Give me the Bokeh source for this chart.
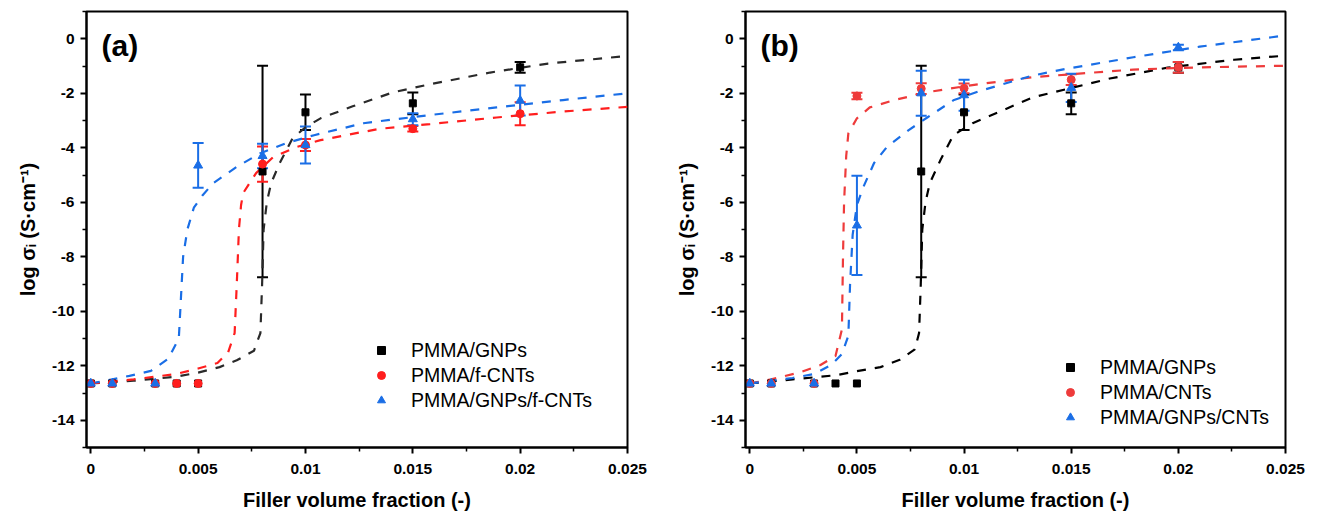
from bokeh.plotting import figure
from bokeh.layouts import row
from bokeh.models import (Range1d, FixedTicker, Whisker, TeeHead, ColumnDataSource,
                          Legend, LegendItem, Label)
from bokeh.embed import file_html
from bokeh.resources import INLINE

# ---------------- data: panel (a) ----------------
gnp_x = [0, 0.001, 0.003, 0.004, 0.005, 0.008, 0.01, 0.015, 0.02]
gnp_y = [-12.65, -12.65, -12.65, -12.65, -12.65, -4.87, -2.7, -2.37, -1.05]
gnp_err = [0, 0, 0, 0, 0, 3.88, 0.65, 0.4, 0.2]

fcnt_x = [0, 0.001, 0.003, 0.004, 0.005, 0.008, 0.01, 0.015, 0.02]
fcnt_y = [-12.65, -12.65, -12.65, -12.65, -12.65, -4.6, -3.9, -3.3, -2.75]
fcnt_err = [0, 0, 0, 0, 0, 0.65, 0.22, 0.1, 0.42]

hyba_x = [0, 0.001, 0.003, 0.005, 0.008, 0.01, 0.015, 0.02]
hyba_y = [-12.65, -12.65, -12.65, -4.65, -4.3, -3.9, -2.95, -2.27]
hyba_err = [0, 0, 0, 0.82, 0.45, 0.68, 0.22, 0.55]

# fitted curves (a)
fit_gnp_a_x = [0, 0.002, 0.004, 0.005, 0.006, 0.0068, 0.0076, 0.0079, 0.00798, 0.00805, 0.0082,
               0.0084, 0.0088, 0.0094, 0.01, 0.0107, 0.0122, 0.0141, 0.0158, 0.0186, 0.0213, 0.025]
fit_gnp_a_y = [-12.65, -12.55, -12.4, -12.25, -12.05, -11.8, -11.45, -10.8, -9.0, -7.0, -6.0,
               -5.3, -4.56, -3.65, -3.25, -2.92, -2.48, -1.96, -1.67, -1.24, -0.91, -0.63]

fit_fcnt_a_x = [0, 0.002, 0.004, 0.005, 0.0059, 0.0064, 0.0067, 0.0068, 0.0069, 0.007, 0.0071,
                0.0077, 0.0085, 0.0096, 0.0107, 0.0126, 0.0135, 0.0158, 0.0189, 0.022, 0.025]
fit_fcnt_a_y = [-12.65, -12.5, -12.3, -12.1, -11.9, -11.5, -10.8, -9.0, -7.0, -6.1, -5.66,
                -4.93, -4.34, -3.97, -3.72, -3.43, -3.3, -3.13, -2.89, -2.67, -2.5]

fit_hyb_a_x = [0, 0.001, 0.0018, 0.0028, 0.0036, 0.0041, 0.0042, 0.0043, 0.0045, 0.0048, 0.0052,
               0.0057, 0.0068, 0.0079, 0.0091, 0.0104, 0.0127, 0.0135, 0.0158, 0.0189, 0.022, 0.025]
fit_hyb_a_y = [-12.65, -12.5, -12.37, -12.19, -11.75, -11.0, -9.5, -8.0, -7.0, -6.2, -5.75,
               -5.3, -4.7, -4.2, -3.83, -3.54, -3.1, -3.02, -2.8, -2.52, -2.25, -2.0]

# ---------------- data: panel (b) ----------------
cnt_x = [0, 0.001, 0.003, 0.005, 0.008, 0.01, 0.015, 0.02]
cnt_y = [-12.65, -12.65, -12.65, -2.1, -1.83, -1.82, -1.5, -1.05]
cnt_err = [0, 0, 0, 0.12, 0.2, 0.18, 0.2, 0.2]

hybb_x = [0, 0.001, 0.003, 0.005, 0.008, 0.01, 0.015, 0.02]
hybb_y = [-12.65, -12.65, -12.65, -6.85, -2.0, -2.07, -1.8, -0.32]
hybb_err = [0, 0, 0, 1.82, 0.83, 0.57, 0.52, 0.1]

fit_gnp_b_x = [0, 0.002, 0.004, 0.005, 0.0061, 0.007, 0.0077, 0.0079, 0.00798, 0.00805, 0.0082,
               0.0084, 0.0089, 0.0095, 0.0104, 0.0118, 0.0132, 0.014, 0.0168, 0.0195, 0.0226, 0.025]
fit_gnp_b_y = [-12.65, -12.5, -12.35, -12.2, -12.05, -11.78, -11.4, -10.8, -9.0, -7.0, -6.0,
               -5.3, -4.45, -3.54, -3.1, -2.63, -2.15, -2.0, -1.46, -1.06, -0.77, -0.62]

fit_cnt_b_x = [0, 0.001, 0.0024, 0.0033, 0.004, 0.0043, 0.00435, 0.0044, 0.0045, 0.0046, 0.005,
               0.0056, 0.0067, 0.0083, 0.0102, 0.0132, 0.0179, 0.021, 0.025]
fit_cnt_b_y = [-12.65, -12.5, -12.23, -11.97, -11.64, -10.66, -8.0, -6.0, -4.3, -3.47, -2.92,
               -2.52, -2.26, -1.96, -1.72, -1.41, -1.13, -1.05, -0.99]

fit_hyb_b_x = [0, 0.001, 0.002, 0.003, 0.0038, 0.0043, 0.0046, 0.00468, 0.0048, 0.005, 0.0053,
               0.0058, 0.0064, 0.0074, 0.0083, 0.0095, 0.0108, 0.0132, 0.0148, 0.0179, 0.021, 0.025]
fit_hyb_b_y = [-12.65, -12.55, -12.45, -12.3, -11.97, -11.57, -10.9, -9.0, -7.2, -6.1, -5.44,
               -4.56, -3.97, -3.36, -2.88, -2.26, -1.9, -1.35, -1.1, -0.68, -0.29, 0.12]

x_ticks = [0, 0.005, 0.01, 0.015, 0.02, 0.025]
x_tick_labels = ["0", "0.005", "0.01", "0.015", "0.02", "0.025"]
x_minor = [0.0025, 0.0075, 0.0125, 0.0175, 0.0225]
y_ticks = [0, -2, -4, -6, -8, -10, -12, -14]
y_tick_labels = ["0", "-2", "-4", "-6", "-8", "-10", "-12", "-14"]
y_minor = [1, -1, -3, -5, -7, -9, -11, -13, -15]

BLACK = "#000000"
BLACK_LINE = "#2a2a2a"
RED_A = "#ff1e1e"
RED_B = "#ee3b3b"
BLUE = "#1a6ee6"
FONT = "Liberation Sans"


def make_panel(tag, series, fits, legend_loc, right_border):
    p = figure(width=659, height=521, x_range=Range1d(-0.0002, 0.025),
               y_range=Range1d(-15, 1), output_backend="svg", toolbar_location=None,
               min_border_left=86, min_border_right=right_border, min_border_top=11,
               min_border_bottom=74)
    p.grid.visible = False
    p.outline_line_color = "black"
    p.outline_line_width = 2
    p.background_fill_color = "white"
    p.border_fill_color = "white"

    p.xaxis.ticker = FixedTicker(ticks=x_ticks, minor_ticks=x_minor)
    p.xaxis.major_label_overrides = {t: l for t, l in zip(x_ticks, x_tick_labels)}
    p.yaxis.ticker = FixedTicker(ticks=y_ticks, minor_ticks=y_minor)
    p.yaxis.major_label_overrides = {t: l for t, l in zip(y_ticks, y_tick_labels)}
    for ax in (p.xaxis, p.yaxis):
        ax.axis_line_width = 2
        ax.major_tick_line_width = 2
        ax.minor_tick_line_width = 1.5
        ax.major_tick_out = 6
        ax.major_tick_in = 0
        ax.minor_tick_out = 4
        ax.minor_tick_in = 0
        ax.major_label_text_font = FONT
        ax.major_label_text_font_style = "bold"
        ax.major_label_text_font_size = "15.5px"
        ax.major_label_text_color = "black"
        ax.axis_label_text_font = FONT
        ax.axis_label_text_font_style = "bold"
        ax.axis_label_text_font_size = "20px"
        ax.axis_label_text_color = "black"
    p.xaxis.axis_label = "Filler volume fraction (-)"
    p.yaxis.axis_label = "log σᵢ (S·cm⁻¹)"
    p.xaxis.major_label_standoff = 10
    p.xaxis.axis_label_standoff = 12
    p.yaxis.major_label_standoff = 6
    p.yaxis.axis_label_standoff = 10

    # fit curves
    for fx, fy, col in fits:
        p.line(fx, fy, line_color=col, line_width=2.2, line_dash="9 9")

    items = []
    for name, xs, ys, errs, col, marker, size in series:
        ex = [x for x, e in zip(xs, errs) if e > 0]
        ey = [y for y, e in zip(ys, errs) if e > 0]
        ee = [e for e in errs if e > 0]
        src = ColumnDataSource(dict(x=ex, upper=[y + e for y, e in zip(ey, ee)],
                                    lower=[y - e for y, e in zip(ey, ee)]))
        w = Whisker(source=src, base="x", upper="upper", lower="lower",
                    line_color=col, line_width=2,
                    upper_head=TeeHead(size=11, line_color=col, line_width=2),
                    lower_head=TeeHead(size=11, line_color=col, line_width=2))
        p.add_layout(w)
        r = p.scatter(xs, ys, marker=marker, size=size, fill_color=col, line_color=col)
        items.append(LegendItem(label=name, renderers=[r]))

    leg = Legend(items=items, location=legend_loc, orientation="vertical",
                 label_text_font=FONT, label_text_font_size="19.5px",
                 label_text_color="black", glyph_width=20, glyph_height=24,
                 label_height=24, spacing=1, padding=0, margin=0, label_standoff=20,
                 border_line_alpha=0, background_fill_alpha=0)
    p.add_layout(leg, "center")

    p.add_layout(Label(x=0.0005, y=-0.25, text=tag, text_font=FONT,
                       text_font_style="bold", text_font_size="30px",
                       text_baseline="middle", text_color="black"))
    return p


pa = make_panel("(a)",
                [("PMMA/GNPs", gnp_x, gnp_y, gnp_err, BLACK, "square", 7),
                 ("PMMA/f-CNTs", fcnt_x, fcnt_y, fcnt_err, RED_A, "circle", 8),
                 ("PMMA/GNPs/f-CNTs", hyba_x, hyba_y, hyba_err, BLUE, "triangle", 9)],
                [(fit_gnp_a_x, fit_gnp_a_y, BLACK_LINE),
                 (fit_fcnt_a_x, fit_fcnt_a_y, RED_A),
                 (fit_hyb_a_x, fit_hyb_a_y, BLUE)],
                (285, 35), 32)

pb = make_panel("(b)",
                [("PMMA/GNPs", gnp_x, gnp_y, gnp_err, BLACK, "square", 7),
                 ("PMMA/CNTs", cnt_x, cnt_y, cnt_err, RED_B, "circle", 8),
                 ("PMMA/GNPs/CNTs", hybb_x, hybb_y, hybb_err, BLUE, "triangle", 9)],
                [(fit_gnp_b_x, fit_gnp_b_y, BLACK),
                 (fit_cnt_b_x, fit_cnt_b_y, RED_B),
                 (fit_hyb_b_x, fit_hyb_b_y, BLUE)],
                (315, 18), 33)

layout = row(pa, pb)
open("out.html", "w").write(file_html(layout, INLINE))
